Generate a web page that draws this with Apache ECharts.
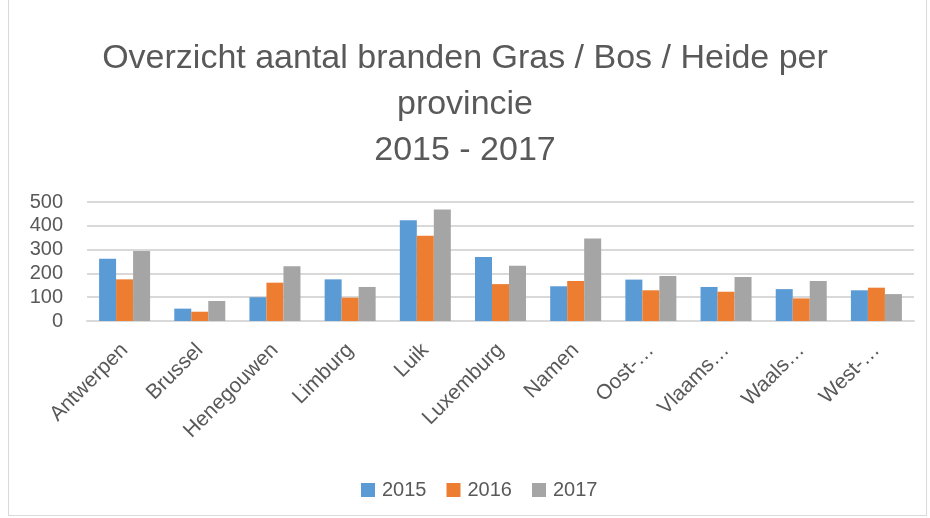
<!DOCTYPE html>
<html>
<head>
<meta charset="utf-8">
<script src="https://cdn.jsdelivr.net/npm/echarts@6/dist/echarts.min.js"></script>
<style>
  html, body { margin: 0; padding: 0; background: #fff; }
  #frame { position: absolute; left: 8px; top: -1px; width: 917px; height: 515px; border: 1px solid #d9d9d9; }
  #chart { position: absolute; left: 0; top: 0; width: 930px; height: 518px; }
</style>
</head>
<body>
<div id="frame"></div>
<div id="chart"></div>
<script>
const categories = ['Antwerpen', 'Brussel', 'Henegouwen', 'Limburg', 'Luik', 'Luxemburg', 'Namen', 'Oost-…', 'Vlaams…', 'Waals…', 'West-…'];
const values2015 = [262, 52, 100, 175, 423, 269, 146, 174, 143, 134, 129];
const values2016 = [175, 39, 161, 98, 358, 155, 168, 129, 123, 95, 140];
const values2017 = [294, 84, 230, 143, 468, 232, 347, 189, 185, 168, 113];
const yTicks = [0, 100, 200, 300, 400, 500];

const myChart = echarts.init(document.getElementById('chart'));
const font = 'Liberation Sans, Arial, sans-serif';
const textColor = '#595959';

const bar = (name, data, color) => ({
    name: name,
    type: 'bar',
    data: data,
    barWidth: 17,
    barGap: '0%',
    itemStyle: { color: color }
});

const options = {
    animation: false,
    title: {
        text: 'Overzicht aantal branden Gras / Bos / Heide per\nprovincie\n2015 - 2017',
        left: 'center',
        top: 31,
        textStyle: {
            fontFamily: font,
            fontSize: 34,
            fontWeight: 'normal',
            color: textColor,
            lineHeight: 46
        }
    },
    legend: {
        bottom: 13,
        left: 356,
        itemWidth: 14,
        itemHeight: 14,
        itemGap: 20,
        icon: 'rect',
        textStyle: { fontFamily: font, fontSize: 20, color: textColor, padding: [0, 0, 0, 2] }
    },
    grid: { left: 87, right: 16, top: 202, bottom: 197 },
    xAxis: {
        type: 'category',
        data: categories,
        axisTick: { show: false },
        axisLine: { lineStyle: { color: '#d9d9d9', width: 2 } },
        axisLabel: {
            interval: 0,
            rotate: 45,
            margin: 26,
            fontFamily: font,
            fontSize: 21,
            color: textColor
        }
    },
    yAxis: {
        type: 'value',
        min: yTicks[0],
        max: yTicks[yTicks.length - 1],
        interval: 100,
        axisLine: { show: false },
        axisTick: { show: false },
        splitLine: { lineStyle: { color: '#d9d9d9', width: 2 } },
        axisLabel: { fontFamily: font, fontSize: 20, color: textColor, margin: 24 }
    },
    series: [
        bar('2015', values2015, '#5B9BD5'),
        bar('2016', values2016, '#ED7D31'),
        bar('2017', values2017, '#A5A5A5')
    ]
};

myChart.setOption(options);
</script>
</body>
</html>
